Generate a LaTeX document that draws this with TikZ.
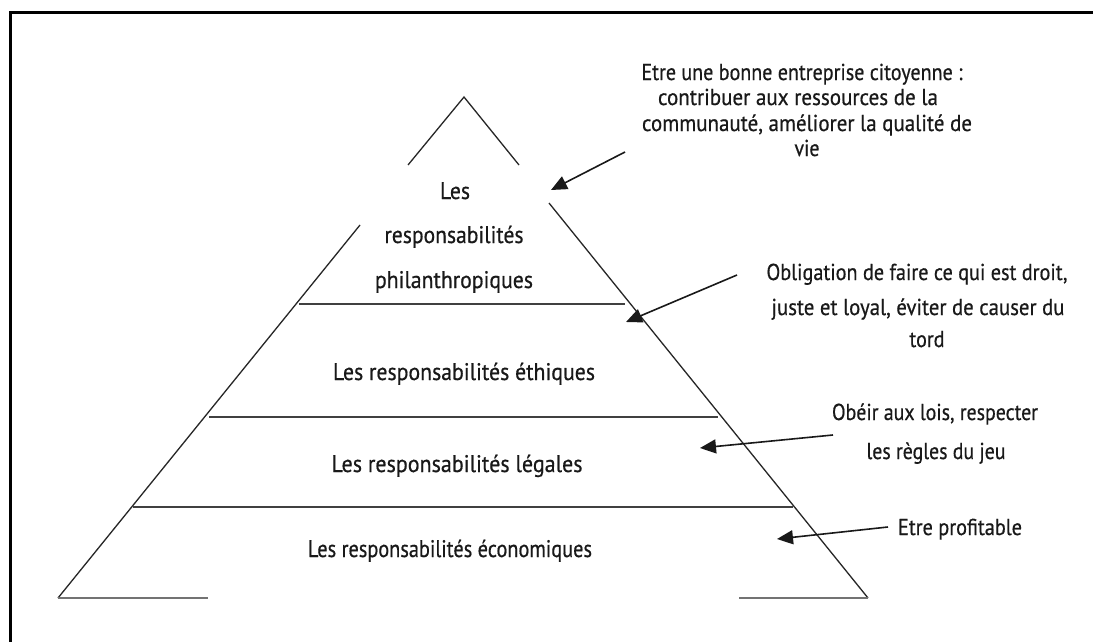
\documentclass[tikz,border=0pt]{standalone}
\usepackage{fontspec}
\setmainfont{PT Sans}
\newfontfamily\txtfont{PT Sans}[FakeBold=0.6]
\usetikzlibrary{arrows.meta}
\newcommand{\fitw}[2]{\resizebox{#1pt}{\height}{#2}}
\begin{document}
\begin{tikzpicture}[x=1pt,y=-1pt,
  pyr/.style={line width=1.3pt, draw=black!85},
  lvl/.style={line width=1.6pt, draw=black!75},
  basel/.style={line width=2.2pt, draw=black!55},
  lbl/.style={anchor=base, inner sep=0pt, font=\txtfont\fontsize{24}{28}\selectfont, text=black!90},
  note/.style={anchor=base, inner sep=0pt, font=\txtfont\fontsize{23}{27}\selectfont, text=black!90},
  arr/.style={line width=1.6pt, draw=black!90, -{Triangle[length=16pt,width=14pt]}},
]
\useasboundingbox (0,0) rectangle (1093,642);
\fill[white] (0,0) rectangle (1093,642);
% frame
\draw[line width=3pt] (10.5,642) -- (10.5,12.5) -- (1093,12.5);
% pyramid
\draw[pyr] (408,165) -- (464,97) -- (519,165);
\draw[pyr] (360,225) -- (58,598);
\draw[pyr] (549,203) -- (868,598);
\draw[lvl] (299,304) -- (625,304);
\draw[lvl] (209,417) -- (718,417);
\draw[lvl] (133,507) -- (793,507);
\draw[basel] (58,598) -- (208,598);
\draw[basel] (739,598) -- (868,598);
% pyramid labels
\node[lbl] (p1) at (455,199) {\fitw{30}{Les}};
\node[lbl] (p2) at (454,243) {\fitw{139}{responsabilités}};
\node[lbl] (p3) at (454,288) {\fitw{158}{philanthropiques}};
\node[lbl] (eth) at (464,380) {\fitw{262}{Les responsabilités éthiques}};
\node[lbl] (leg) at (457,472) {\fitw{251}{Les responsabilités légales}};
\node[lbl] (eco) at (450,557) {\fitw{284}{Les responsabilités économiques}};
% notes
\node[note] (t1) at (802,80) {\fitw{321}{Etre une bonne entreprise citoyenne :}};
\node[note] (t2) at (798,105) {\fitw{280}{contribuer aux ressources de la}};
\node[note] (t3) at (807,131) {\fitw{330}{communauté, améliorer la qualité de}};
\node[note] (t4) at (807,156) {\fitw{25}{vie}};
\node[note] (o1) at (917,280) {\fitw{301}{Obligation de faire ce qui est droit,}};
\node[note] (o2) at (918,315) {\fitw{293}{juste et loyal, éviter de causer du}};
\node[note] (o3) at (927,347) {\fitw{35}{tord}};
\node[note] (l1) at (935,420) {\fitw{206}{Obéir aux lois, respecter}};
\node[note] (l2) at (936,459) {\fitw{139}{les règles du jeu}};
\node[note] (e1) at (960,535) {\fitw{124}{Etre profitable}};
% arrows
\coordinate (a1s) at (625,152); \coordinate (a1e) at (551,190);
\coordinate (a2s) at (737,275); \coordinate (a2e) at (626,322);
\coordinate (a3s) at (833,435); \coordinate (a3e) at (700,448);
\coordinate (a4s) at (888,527); \coordinate (a4e) at (777,539);
\draw[arr] (a1s) -- (a1e);
\draw[arr] (a2s) -- (a2e);
\draw[arr] (a3s) -- (a3e);
\draw[arr] (a4s) -- (a4e);
\end{tikzpicture}
\end{document}
